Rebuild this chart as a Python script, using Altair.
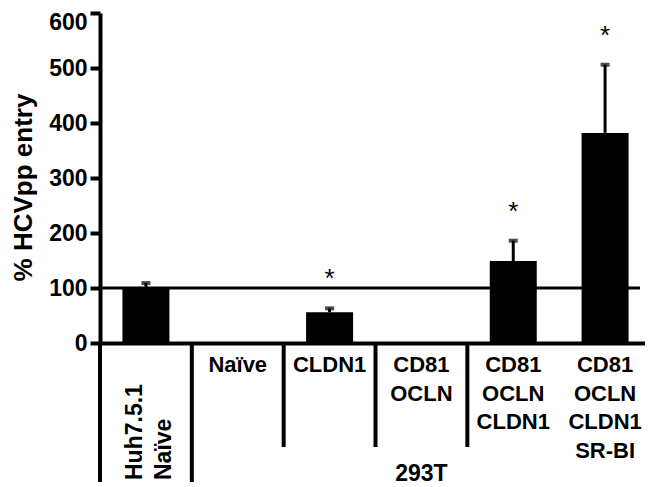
import altair as alt
import pandas as pd

# ---- data ----
categories = ["Huh7.5.1 Naïve", "Naïve", "CLDN1", "CD81 OCLN",
              "CD81 OCLN CLDN1", "CD81 OCLN CLDN1 SR-BI"]
entry = [100, 0, 56, 0, 149, 382]
err_upper = [109, 0, 63, 0, 186, 506]
significant = [False, False, True, False, True, True]
column_lines = [["Huh7.5.1", "Naïve"], ["Naïve"], ["CLDN1"], ["CD81", "OCLN"],
                ["CD81", "OCLN", "CLDN1"], ["CD81", "OCLN", "CLDN1", "SR-BI"]]
group_label = "293T"
y_ticks = [0, 100, 200, 300, 400, 500, 600]
reference_level = 100
y_title = "% HCVpp entry"

FONT = "Liberation Sans"
W, H = 545, 330
BAND_SPAN = 551
BOTTOM = 144

bars_df = pd.DataFrame({"cat": categories, "entry": entry, "err": err_upper})
err_df = bars_df[bars_df["err"] > bars_df["entry"]]
stars_df = bars_df[significant].assign(star="*")
ref_df = pd.DataFrame({"ref": [reference_level]})

rows = []
for c, lines in zip(categories[1:], column_lines[1:]):
    for i, t in enumerate(lines):
        rows.append({"cat": c, "row": i, "label": t})
rows_df = pd.DataFrame(rows)
huh_df = pd.DataFrame({"cat": [categories[0]], "label": ["\n".join(column_lines[0])]})
group_df = pd.DataFrame({"cat": [categories[3]], "label": [group_label]})
sep_full_df = pd.DataFrame({"cat": categories[:2]})
sep_short_df = pd.DataFrame({"cat": categories[2:5]})
sep_right_df = pd.DataFrame({"cat": categories[5:]})

xscale = alt.Scale(domain=categories, paddingInner=0, paddingOuter=0, range=[0, BAND_SPAN])
xaxis = alt.Axis(labels=False, ticks=False, domain=True, domainWidth=4,
                 domainColor="black", grid=False, title=None)
yscale = alt.Scale(domain=[0, 600], nice=False)
yaxis = alt.Axis(values=y_ticks, title=y_title, titleAngle=270, titleX=-77, titleY=174,
                 titleAlign="center", titleBaseline="middle", titleFontSize=26,
                 titleFontWeight="bold", titleFont=FONT, titleColor="black",
                 labelFontSize=23, labelFontWeight="bold", labelFont=FONT,
                 labelColor="black", labelPadding=3, tickSize=10, tickWidth=4,
                 labelOffset={"condition": {"test": "datum.value === 600", "value": 9}, "value": 0},
                 tickColor="black", domainWidth=4, domainColor="black", grid=False)


def X(**kw):
    return alt.X("cat:N", scale=xscale, axis=xaxis, **kw)


def Y(field):
    return alt.Y(field, scale=yscale, axis=yaxis)


bars = alt.Chart(bars_df).mark_bar(size=47, color="black").encode(x=X(), y=Y("entry:Q"))
err_rule = alt.Chart(err_df).mark_rule(color="black", strokeWidth=3).encode(
    x=X(), y=Y("entry:Q"), y2="err:Q")
err_cap = alt.Chart(err_df).mark_tick(color="black", size=9, thickness=4).encode(
    x=X(), y=Y("err:Q"))
ref_line = alt.Chart(ref_df).mark_rule(color="black", strokeWidth=3).encode(
    y=Y("ref:Q"), x=alt.value(0), x2=alt.value(BAND_SPAN - 11))
stars = alt.Chart(stars_df).mark_text(font=FONT, fontSize=26, color="black",
                                      baseline="alphabetic", dy=-21).encode(
    x=X(), y=Y("err:Q"), text="star:N")

main = alt.layer(bars, err_rule, err_cap, ref_line, stars)

sep_full = alt.Chart(sep_full_df).mark_rule(color="black", strokeWidth=4).encode(
    x=X(bandPosition=0), y=alt.value(H), y2=alt.value(H + 139))
sep_short = alt.Chart(sep_short_df).mark_rule(color="black", strokeWidth=4).encode(
    x=X(bandPosition=0), y=alt.value(H), y2=alt.value(H + 104))
sep_right = alt.Chart(sep_right_df).mark_rule(color="black", strokeWidth=3).encode(
    x=X(bandPosition=1), y=alt.value(H), y2=alt.value(H + 139))
row_text = alt.Chart(rows_df).mark_text(font=FONT, fontSize=22, fontWeight="bold",
                                        color="black", baseline="middle", align="center").encode(
    x=X(), y=alt.Y("row:Q", scale=alt.Scale(domain=[0, 3], range=[H + 22, H + 108], nice=False, zero=False),
                   axis=None),
    text="label:N")
huh_text = alt.Chart(huh_df).mark_text(font=FONT, fontSize=23, fontWeight="bold", color="black",
                                       angle=270, align="left", baseline="middle",
                                       lineBreak="\n", lineHeight=29, dy=-11).encode(
    x=X(), y=alt.value(H + 137), text="label:N")
group_text = alt.Chart(group_df).mark_text(font=FONT, fontSize=23, fontWeight="bold", color="black",
                                           align="center", baseline="alphabetic").encode(
    x=X(), y=alt.value(H + 138), text="label:N")

table = alt.layer(sep_full, sep_short, sep_right, row_text, huh_text, group_text)

chart = alt.layer(main, table).resolve_scale(y="independent").properties(
    width=W, height=H,
    autosize=alt.AutoSizeParams(type="none"),
    padding={"left": 92, "top": 5, "right": 0, "bottom": BOTTOM},
).configure_view(stroke=None, strokeWidth=0).configure_axis(
    grid=False, gridOpacity=0
).configure(font=FONT, background="white", style={"cell": {"stroke": None, "strokeWidth": 0, "strokeOpacity": 0}})

chart.save("out.html", embed_options={"renderer": "svg", "actions": False})
